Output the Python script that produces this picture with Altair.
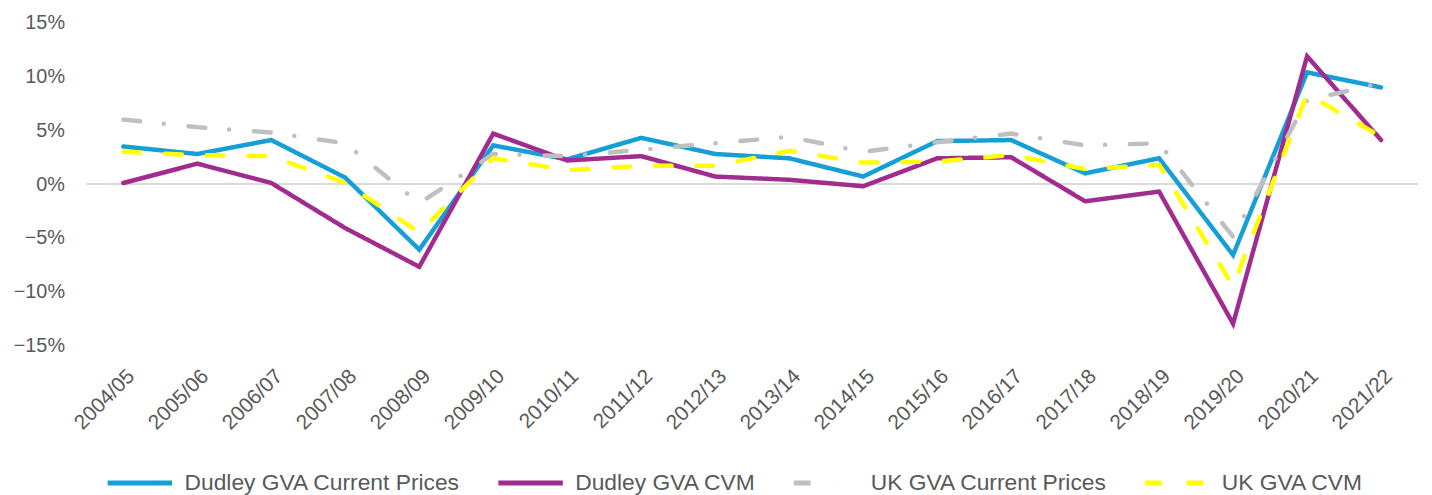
import altair as alt
import pandas as pd

years = ["2004/05", "2005/06", "2006/07", "2007/08", "2008/09", "2009/10",
         "2010/11", "2011/12", "2012/13", "2013/14", "2014/15", "2015/16",
         "2016/17", "2017/18", "2018/19", "2019/20", "2020/21", "2021/22"]

dudley_cp = [3.5, 2.8, 4.1, 0.6, -6.1, 3.6, 2.3, 4.3, 2.8, 2.4, 0.7, 4.0,
             4.1, 1.0, 2.4, -6.6, 10.4, 9.0]
dudley_cvm = [0.1, 1.9, 0.1, -4.1, -7.7, 4.7, 2.2, 2.6, 0.7, 0.4, -0.2, 2.4,
              2.5, -1.6, -0.7, -13.0, 11.9, 4.1]
uk_cp = [6.0, 5.3, 4.8, 3.8, -1.8, 2.8, 2.6, 3.2, 3.8, 4.4, 3.0, 3.9,
         4.7, 3.6, 3.8, -4.9, 7.8, 9.4]
uk_cvm = [3.0, 2.7, 2.6, 0.1, -4.5, 2.4, 1.3, 1.7, 1.7, 3.1, 2.0, 2.1,
          2.7, 1.4, 1.8, -9.5, 8.4, 4.4]

series_names = ["Dudley GVA Current Prices", "Dudley GVA CVM",
                "UK GVA Current Prices", "UK GVA CVM"]
series_values = [dudley_cp, dudley_cvm, uk_cp, uk_cvm]
colors = ["#169FD6", "#A02C8F", "#BFBFBF", "#FFFF00"]
dashes = [[1, 0], [1, 0], [17, 24, 0.1, 25], [17, 25]]

rows = []
for order, (name, vals) in enumerate(zip(series_names, series_values)):
    for yr, v in zip(years, vals):
        rows.append({"year": yr, "value": v / 100.0, "series": name, "order": order})
df = pd.DataFrame(rows)

zero = pd.DataFrame({"y": [0.0]})

font = "Liberation Sans"
label_color = "#595959"

rule = alt.Chart(zero).mark_rule(color="#D9D9D9", strokeWidth=2).encode(
    y=alt.Y("y:Q", scale=alt.Scale(domain=[-0.15, 0.15]))
)

lines = alt.Chart(df).mark_line(strokeWidth=4.5, strokeCap="round",
                                strokeJoin="miter").encode(
    x=alt.X("year:N", sort=years, title=None,
            scale=alt.Scale(type="point", padding=0.5),
            axis=alt.Axis(labelAngle=-45, labelFontSize=21, labelColor=label_color,
                          labelFont=font, domain=False, ticks=False,
                          labelPadding=20, grid=False)),
    y=alt.Y("value:Q", title=None,
            scale=alt.Scale(domain=[-0.15, 0.15], nice=False),
            axis=alt.Axis(format=".0%", values=[-0.15, -0.10, -0.05, 0, 0.05, 0.10, 0.15],
                          labelFontSize=20, labelColor=label_color, labelFont=font,
                          domain=False, ticks=False, grid=False, labelPadding=22)),
    color=alt.Color("series:N", title=None,
                    scale=alt.Scale(domain=series_names, range=colors),
                    legend=alt.Legend(orient="none", legendX=19, legendY=451,
                                      direction="horizontal",
                                      symbolType="stroke", symbolSize=4225,
                                      symbolStrokeWidth=5, labelFontSize=23,
                                      labelColor=label_color, labelFont=font,
                                      columnPadding=35, labelOffset=10,
                                      labelLimit=400, clipHeight=26)),
    strokeDash=alt.StrokeDash("series:N", title=None,
                              scale=alt.Scale(domain=series_names, range=dashes)),
    order=alt.Order("order:Q"),
    detail="series:N",
)

chart = alt.layer(rule, lines).properties(
    width=1343, height=325,
    padding={"left": 5, "top": 3, "right": 5, "bottom": 0},
).configure(background="white").configure_view(stroke=None)

chart.save("out.html", embed_options={"renderer": "svg", "actions": False})
